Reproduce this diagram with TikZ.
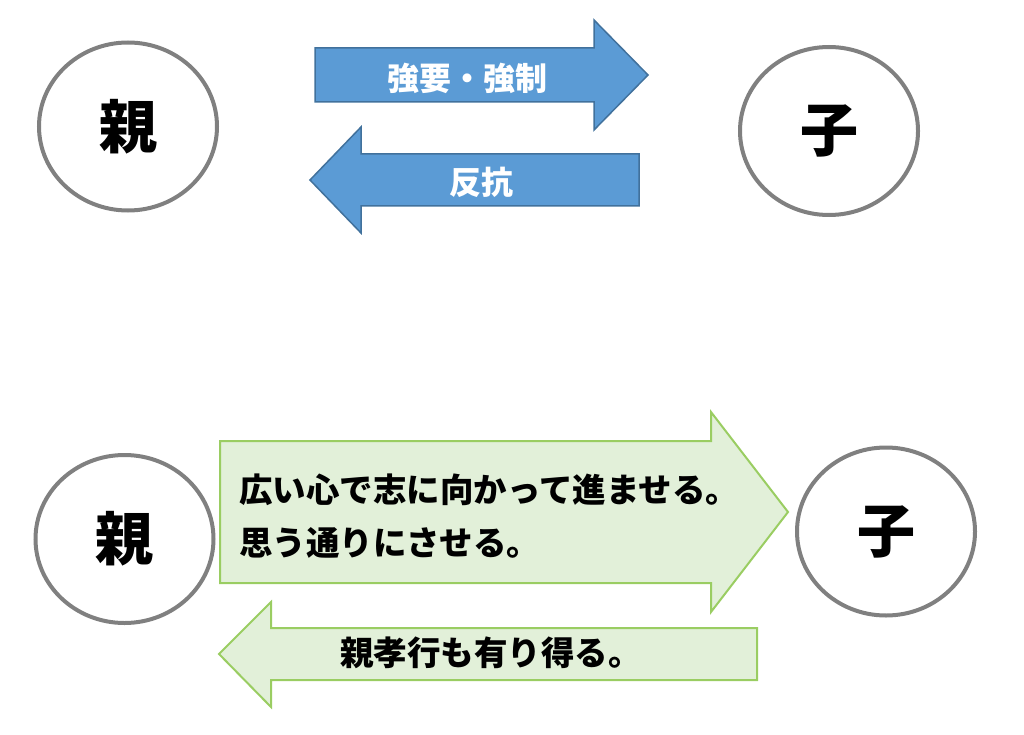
\documentclass[tikz,border=0pt]{standalone}
\usepackage{fontspec}
\usepackage{tikz}
\usetikzlibrary{shapes.geometric}
\newfontfamily\jp{Noto Sans CJK JP}
\definecolor{ringgray}{HTML}{808080}
\definecolor{bluefill}{HTML}{5B9BD5}
\definecolor{blueline}{HTML}{41719C}
\definecolor{greenfill}{HTML}{E2F0D9}
\definecolor{greenline}{HTML}{9ACD62}

\begin{document}
\begin{tikzpicture}[x=1pt,y=-1pt,
    ring/.style={ellipse,draw=ringgray,line width=4pt,minimum width=178pt,minimum height=168pt,inner sep=0pt,font=\jp\bfseries\fontsize{58}{58}\selectfont},
    bluearrow/.style={fill=bluefill,draw=blueline,line width=1.5pt,line join=miter},
    greenarrow/.style={fill=greenfill,draw=greenline,line width=2pt,line join=miter},
    bluetext/.style={text=white,inner sep=0pt,font=\jp\bfseries\fontsize{32}{32}\selectfont},
    greentext/.style={text=black,inner sep=0pt,font=\jp\bfseries\fontsize{33.5}{53}\selectfont}]
                    \useasboundingbox (0,0) rectangle (1024,735);

                    \node[ring] (oyaA) at (128,126.5) {親};
                    \node[ring] (koA) at (829,131) {子};

                    \filldraw[bluearrow] (315,48) -- (594,48) -- (594,20) -- (648,75) -- (594,130) -- (594,102) -- (315,102) -- cycle;
                    \node[bluetext] (kyoyo) at (467,78) {強要・強制};

                    \filldraw[bluearrow] (639,154) -- (361,154) -- (361,127) -- (310,180) -- (361,233) -- (361,206) -- (639,206) -- cycle;
                    \node[bluetext] (hanko) at (481,182) {反抗};

                    \node[ring] (oyaB) at (124.5,539) {親};
                    \node[ring] (koB) at (886,531.5) {子};

                    \filldraw[greenarrow] (220,441) -- (711,441) -- (711,412) -- (788,512) -- (711,612) -- (711,583) -- (220,583) -- cycle;
                    \node[greentext,align=left,anchor=west] (kokorozashi) at (239,516) {広い心で志に向かって進ませる。\\思う通りにさせる。};

                    \filldraw[greenarrow] (757,628) -- (271,628) -- (271,602) -- (219,654) -- (271,707) -- (271,680) -- (757,680) -- cycle;
                    \node[greentext] (oyakoko) at (491,653) {親孝行も有り得る。};

                \end{tikzpicture}
\end{document}
